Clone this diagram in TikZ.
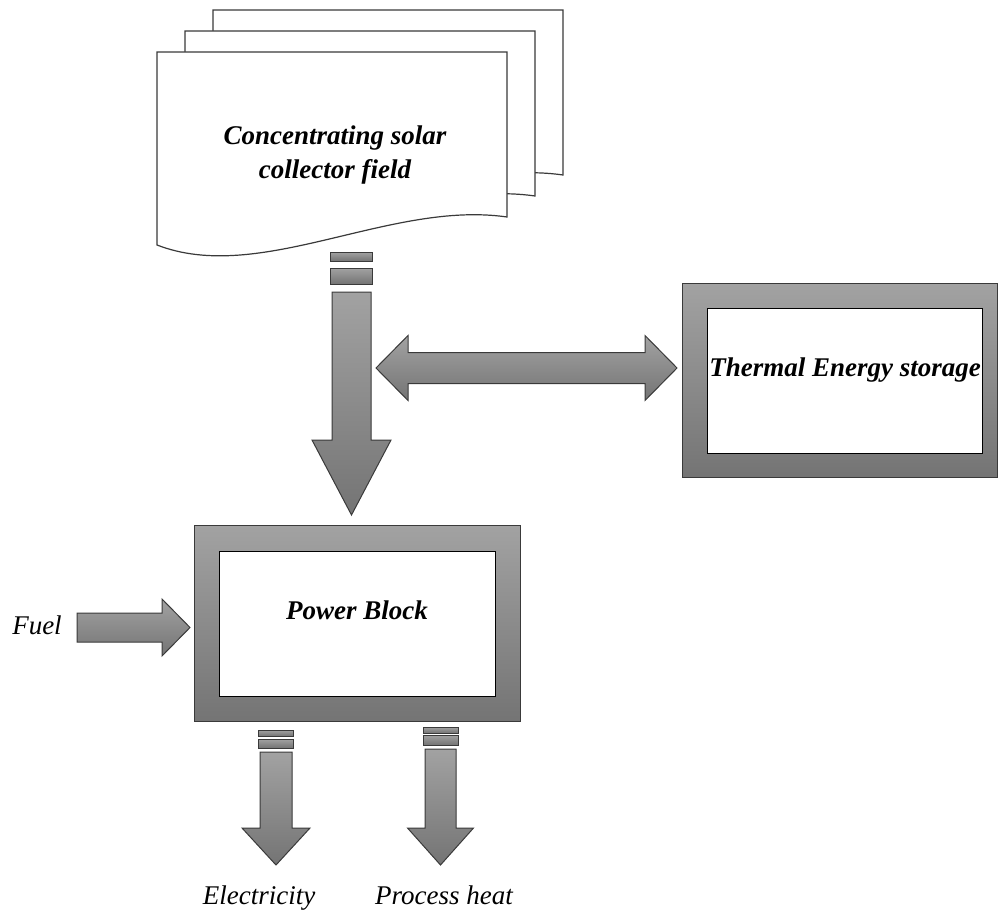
\documentclass[tikz,border=0pt]{standalone}
\usepackage{fontspec}
\setmainfont{Liberation Serif}
\usetikzlibrary{positioning}

\definecolor{gtop}{HTML}{A2A2A2}
\definecolor{gbot}{HTML}{747474}
\definecolor{edge}{HTML}{3A3A3A}

\tikzset{
  slab/.style={draw=edge, line width=1pt, top color=gtop, bottom color=gbot},
  pane/.style={draw=black, fill=white, line width=1pt},
  sheet/.style={draw=edge, fill=white, line width=1.2pt},
  lbl/.style={font=\fontsize{27}{34}\selectfont\bfseries\itshape, align=center},
  tag/.style={font=\fontsize{27}{32}\selectfont\itshape},
}

% block arrow pointing down: x, top, base of head, tip, half shaft, half head
\newcommand{\downblock}[6]{%
  \draw[slab] ({#1-#5},#2) -- ({#1+#5},#2) -- ({#1+#5},#3) -- ({#1+#6},#3)
    -- (#1,#4) -- ({#1-#6},#3) -- ({#1-#5},#3) -- cycle;}
% block arrow pointing right: y, left, base of head, tip, half shaft, half head
\newcommand{\rightblock}[6]{%
  \draw[slab] (#2,{#1-#5}) -- (#3,{#1-#5}) -- (#3,{#1-#6}) -- (#4,#1)
    -- (#3,{#1+#6}) -- (#3,{#1+#5}) -- (#2,{#1+#5}) -- cycle;}

\begin{document}
\begin{tikzpicture}[x=1pt,y=-1pt]
\useasboundingbox (0,0) rectangle (998,915);

% collector field: three stacked sheets
\foreach \i in {2,1,0}{
  \draw[sheet, shift={(\i*28,-\i*21)}] (157,52) -- (507,52) -- (507,217)
    .. controls (390,200) and (260,285) .. (157,245) -- cycle;
}
\node[lbl] (field) at (335,155) {Concentrating solar\\collector field};

% field to power block
\draw[slab] (330,252) rectangle (372,261);
\draw[slab] (330,268) rectangle (372,284);
\downblock{351.5}{292}{440}{515}{19.5}{39.5}

% power block
\node[slab, minimum width=326pt, minimum height=196pt, anchor=north west] (pb) at (194,525) {};
\node[pane, minimum width=276pt, minimum height=145pt] (pbpane) at (pb.center) {};
\node[lbl] (pbtxt) at (357,610) {Power Block};

% thermal energy storage
\node[slab, minimum width=315pt, minimum height=194pt, anchor=north west] (tes) at (682,283) {};
\node[pane, minimum width=275pt, minimum height=145pt, anchor=north west] (tespane) at (707,308) {};
\node[lbl] (testxt) at (845,370) {Thermal Energy storage};

% storage exchange
\draw[slab] (376,368) -- (408,335.5) -- (408,352.5) -- (645,352.5) -- (645,335.5)
  -- (677,368) -- (645,400.5) -- (645,383.5) -- (408,383.5) -- (408,400.5) -- cycle;

% fuel
\node[tag] (fuel) at (37,625) {Fuel};
\rightblock{627.5}{77}{162}{190}{14.5}{28.5}

% outputs
\draw[slab] (258,730) rectangle (293,736);
\draw[slab] (258,739) rectangle (293,748);
\downblock{276}{752}{828}{865}{16}{34}
\node[tag] (elec) at (259,898) {Electricity};

\draw[slab] (423,727) rectangle (458,733);
\draw[slab] (423,735) rectangle (458,745);
\downblock{440.5}{749}{828}{865}{15.5}{33}
\node[tag] (heat) at (444,895) {Process heat};
\end{tikzpicture}
\end{document}
